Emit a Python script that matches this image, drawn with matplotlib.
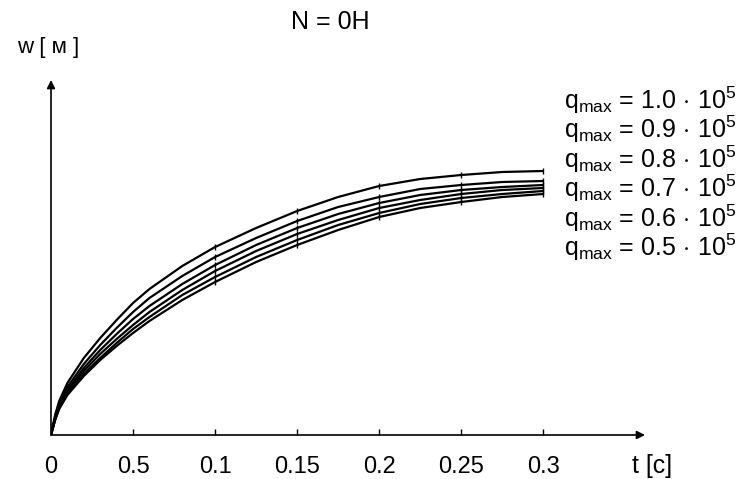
import matplotlib
matplotlib.use("Agg")
import matplotlib.pyplot as plt
import numpy as np

plt.rcParams['font.family'] = ['Liberation Sans', 'DejaVu Sans']
plt.rcParams['mathtext.fontset'] = 'custom'
plt.rcParams['mathtext.rm'] = 'Liberation Sans'
plt.rcParams['mathtext.it'] = 'Liberation Sans'

# time, s
t = [0, 0.0025, 0.005, 0.01, 0.02, 0.03, 0.04, 0.05, 0.06, 0.08, 0.1,
     0.125, 0.15, 0.175, 0.2, 0.225, 0.25, 0.275, 0.3]

# deflection w (arbitrary units)
w_q10 = [0, 20, 34, 52, 77, 97, 115, 132, 146, 169, 188, 207, 224, 238, 249, 256, 260, 263, 264]
w_q09 = [0, 18, 31, 48, 71, 90, 107, 123, 137, 159, 178, 197, 214, 228, 238, 246, 250, 253, 254]
w_q08 = [0, 17, 29, 45, 67, 85, 101, 116, 129, 151, 170, 190, 207, 221, 232, 240, 245, 248, 250]
w_q07 = [0, 16, 28, 43, 64, 81, 96, 110, 123, 145, 164, 184, 201, 215, 227, 235, 241, 245, 247]
w_q06 = [0, 15, 27, 41, 61, 77, 92, 106, 118, 140, 158, 178, 195, 210, 222, 231, 237, 241, 244]
w_q05 = [0, 15, 26, 40, 59, 75, 89, 102, 114, 135, 153, 173, 190, 205, 218, 227, 233, 238, 241]

curves = [w_q10, w_q09, w_q08, w_q07, w_q06, w_q05]
legend_labels = ['1.0', '0.9', '0.8', '0.7', '0.6', '0.5']

tick_pos = [0, 0.05, 0.1, 0.15, 0.2, 0.25, 0.3]
tick_lab = ['0', '0.5', '0.1', '0.15', '0.2', '0.25', '0.3']

fig = plt.figure(figsize=(7.44, 4.79), dpi=100)
ax = fig.add_axes([51/744, (479-435)/479, 594/744, 355/479])
ax.set_xlim(0, 0.362)
ax.set_ylim(0, 355)

for w in curves:
    ax.plot(t, w, color='black', lw=1.6, solid_capstyle='butt',
            marker='|', markersize=5, markeredgewidth=1.0,
            markevery=[10, 12, 14, 16, 18])

for s in ax.spines.values():
    s.set_visible(False)

# axes with arrows
ax.annotate('', xy=(1, 0), xytext=(0, 0), xycoords='axes fraction',
            arrowprops=dict(arrowstyle='-|>', color='black', lw=1.2,
                            mutation_scale=12, shrinkA=0, shrinkB=0))
ax.annotate('', xy=(0, 1), xytext=(0, 0), xycoords='axes fraction',
            arrowprops=dict(arrowstyle='-|>', color='black', lw=1.2,
                            mutation_scale=12, shrinkA=0, shrinkB=0))

ax.set_xticks(tick_pos)
ax.set_xticklabels(tick_lab, fontsize=17)
ax.tick_params(axis='x', direction='in', length=4, width=1, pad=15)
ax.set_yticks([])

fig.text(652/744, 1 - 466/479, 't [c]', fontsize=18, ha='center', va='center')
fig.text(48/744, 1 - 47/479, 'w [ м ]', fontsize=16, ha='center', va='center')
fig.text(330/744, 1 - 22/479, 'N = 0H', fontsize=18, ha='center', va='center')

for i, lab in enumerate(legend_labels):
    y = 100 + i * 29.5
    fig.text(564/744, 1 - y/479,
             r'q$_{\mathrm{max}}$ = ' + lab + r'$\,\cdot\,$10$^{5}$',
             fontsize=18, ha='left', va='center')

fig.savefig('out.png', dpi=100)
